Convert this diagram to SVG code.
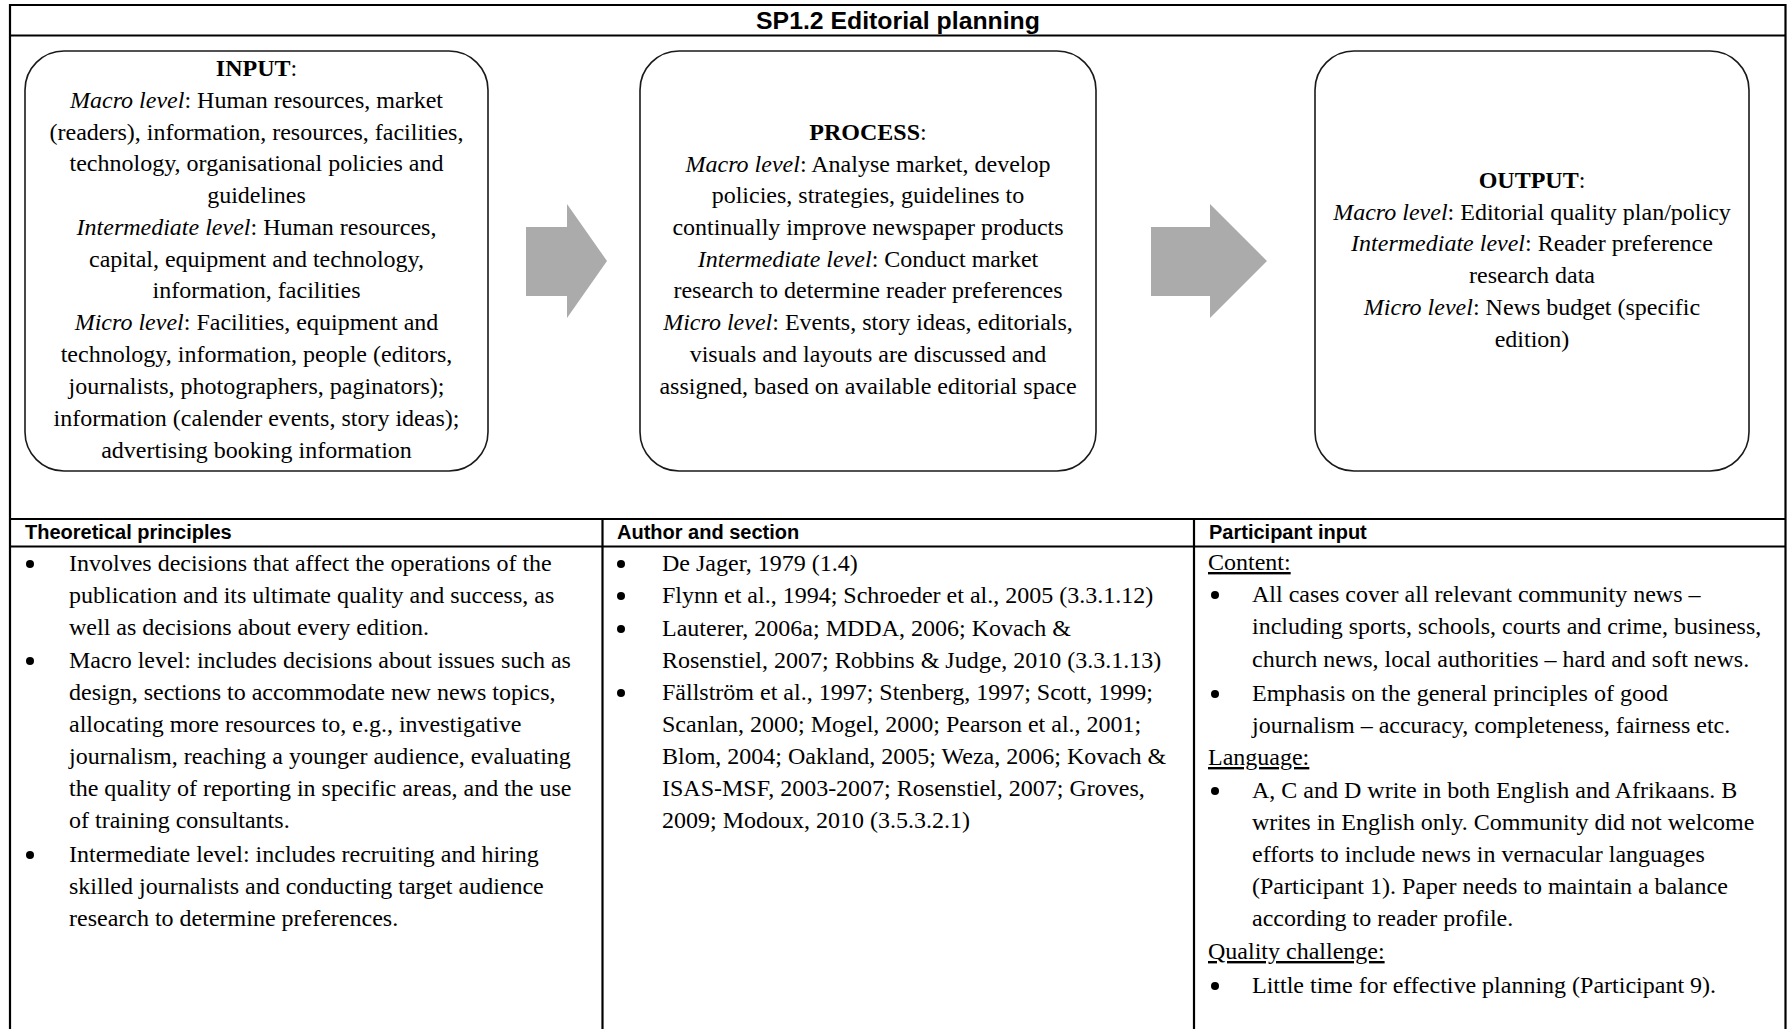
<svg xmlns="http://www.w3.org/2000/svg" width="1787" height="1029" viewBox="0 0 1787 1029">
<style>
.t{font-family:"Liberation Serif","Times New Roman",serif;font-size:24px;fill:#000}
.c{text-anchor:middle}
.i{font-style:italic}
.b{font-weight:bold}
.h{font-family:"Liberation Sans",Arial,sans-serif;font-weight:bold;font-size:20px;fill:#000}
.ti{font-family:"Liberation Sans",Arial,sans-serif;font-weight:bold;font-size:24.8px;fill:#000;text-anchor:middle}
.box{fill:#fff;stroke:#1a1a1a;stroke-width:1.6}
.grid{stroke:#000;stroke-width:2.2;fill:none}
.arrow{fill:#ababab}
.u{text-decoration:underline}
.dot{fill:#000}
</style>
<rect width="1787" height="1029" fill="#fff"/>
<g id="table">
<line class="grid" x1="10" y1="5" x2="1786" y2="5"/>
<line class="grid" x1="10" y1="4" x2="10" y2="1029"/>
<line class="grid" x1="1785.5" y1="4" x2="1785.5" y2="1029"/>
<line class="grid" x1="10" y1="35.5" x2="1786" y2="35.5"/>
<line class="grid" x1="10" y1="519" x2="1786" y2="519"/>
<line class="grid" x1="10" y1="546.5" x2="1786" y2="546.5"/>
<line class="grid" x1="602.5" y1="519" x2="602.5" y2="1029"/>
<line class="grid" x1="1194" y1="519" x2="1194" y2="1029"/>
<text class="ti" x="898" y="28.5">SP1.2 Editorial planning</text>
<text class="h" x="25" y="539">Theoretical principles</text>
<text class="h" x="617" y="539">Author and section</text>
<text class="h" x="1209" y="539">Participant input</text>
</g>
<g id="connectors">
<polygon class="arrow" points="526,227 567,227 567,204 607,261 567,318 567,296 526,296"/>
<polygon class="arrow" points="1151,227 1210,227 1210,204 1267,261 1210,318 1210,296 1151,296"/>
</g>
<g id="input">
<rect class="box" x="25" y="51" width="463" height="420" rx="39" ry="39"/>
<text class="t c" x="256.5" y="76"><tspan class="b">INPUT</tspan>:</text>
<text class="t c" x="256.5" y="108"><tspan class="i">Macro level</tspan>: Human resources, market</text>
<text class="t c" x="256.5" y="140">(readers), information, resources, facilities,</text>
<text class="t c" x="256.5" y="171">technology, organisational policies and</text>
<text class="t c" x="256.5" y="203">guidelines</text>
<text class="t c" x="256.5" y="235"><tspan class="i">Intermediate level</tspan>: Human resources,</text>
<text class="t c" x="256.5" y="267">capital, equipment and technology,</text>
<text class="t c" x="256.5" y="298">information, facilities</text>
<text class="t c" x="256.5" y="330"><tspan class="i">Micro level</tspan>: Facilities, equipment and</text>
<text class="t c" x="256.5" y="362">technology, information, people (editors,</text>
<text class="t c" x="256.5" y="394">journalists, photographers, paginators);</text>
<text class="t c" x="256.5" y="426">information (calender events, story ideas);</text>
<text class="t c" x="256.5" y="458">advertising booking information</text>
</g>
<g id="process">
<rect class="box" x="640" y="51" width="456" height="420" rx="39" ry="39"/>
<text class="t c" x="868" y="140"><tspan class="b">PROCESS</tspan>:</text>
<text class="t c" x="868" y="172"><tspan class="i">Macro level</tspan>: Analyse market, develop</text>
<text class="t c" x="868" y="203">policies, strategies, guidelines to</text>
<text class="t c" x="868" y="235">continually improve newspaper products</text>
<text class="t c" x="868" y="267"><tspan class="i">Intermediate level</tspan>: Conduct market</text>
<text class="t c" x="868" y="298">research to determine reader preferences</text>
<text class="t c" x="868" y="330"><tspan class="i">Micro level</tspan>: Events, story ideas, editorials,</text>
<text class="t c" x="868" y="362">visuals and layouts are discussed and</text>
<text class="t c" x="868" y="394">assigned, based on available editorial space</text>
</g>
<g id="output">
<rect class="box" x="1315" y="51" width="434" height="420" rx="39" ry="39"/>
<text class="t c" x="1532" y="188"><tspan class="b">OUTPUT</tspan>:</text>
<text class="t c" x="1532" y="220"><tspan class="i">Macro level</tspan>: Editorial quality plan/policy</text>
<text class="t c" x="1532" y="251"><tspan class="i">Intermediate level</tspan>: Reader preference</text>
<text class="t c" x="1532" y="283">research data</text>
<text class="t c" x="1532" y="315"><tspan class="i">Micro level</tspan>: News budget (specific</text>
<text class="t c" x="1532" y="347">edition)</text>
</g>
<g id="theory">
<circle class="dot" cx="30" cy="564" r="4"/>
<circle class="dot" cx="30" cy="661" r="4"/>
<circle class="dot" cx="30" cy="855" r="4"/>
<text class="t" x="69" y="571">Involves decisions that affect the operations of the</text>
<text class="t" x="69" y="603">publication and its ultimate quality and success, as</text>
<text class="t" x="69" y="635">well as decisions about every edition.</text>
<text class="t" x="69" y="668">Macro level: includes decisions about issues such as</text>
<text class="t" x="69" y="700">design, sections to accommodate new news topics,</text>
<text class="t" x="69" y="732">allocating more resources to, e.g., investigative</text>
<text class="t" x="69" y="764">journalism, reaching a younger audience, evaluating</text>
<text class="t" x="69" y="796">the quality of reporting in specific areas, and the use</text>
<text class="t" x="69" y="828">of training consultants.</text>
<text class="t" x="69" y="862">Intermediate level: includes recruiting and hiring</text>
<text class="t" x="69" y="894">skilled journalists and conducting target audience</text>
<text class="t" x="69" y="926">research to determine preferences.</text>
</g>
<g id="authors">
<circle class="dot" cx="621" cy="564" r="4"/>
<circle class="dot" cx="621" cy="596" r="4"/>
<circle class="dot" cx="621" cy="629" r="4"/>
<circle class="dot" cx="621" cy="693" r="4"/>
<text class="t" x="662" y="571">De Jager, 1979 (1.4)</text>
<text class="t" x="662" y="603">Flynn et al., 1994; Schroeder et al., 2005 (3.3.1.12)</text>
<text class="t" x="662" y="636">Lauterer, 2006a; MDDA, 2006; Kovach &amp;</text>
<text class="t" x="662" y="668">Rosenstiel, 2007; Robbins &amp; Judge, 2010 (3.3.1.13)</text>
<text class="t" x="662" y="700">Fällström et al., 1997; Stenberg, 1997; Scott, 1999;</text>
<text class="t" x="662" y="732">Scanlan, 2000; Mogel, 2000; Pearson et al., 2001;</text>
<text class="t" x="662" y="764">Blom, 2004; Oakland, 2005; Weza, 2006; Kovach &amp;</text>
<text class="t" x="662" y="796">ISAS-MSF, 2003-2007; Rosenstiel, 2007; Groves,</text>
<text class="t" x="662" y="828">2009; Modoux, 2010 (3.5.3.2.1)</text>
</g>
<g id="participants">
<text class="t u" x="1208" y="570">Content:</text>
<circle class="dot" cx="1215" cy="595" r="4"/>
<text class="t" x="1252" y="602">All cases cover all relevant community news –</text>
<text class="t" x="1252" y="634">including sports, schools, courts and crime, business,</text>
<text class="t" x="1252" y="667">church news, local authorities – hard and soft news.</text>
<circle class="dot" cx="1215" cy="694" r="4"/>
<text class="t" x="1252" y="701">Emphasis on the general principles of good</text>
<text class="t" x="1252" y="733">journalism – accuracy, completeness, fairness etc.</text>
<text class="t u" x="1208" y="765">Language:</text>
<circle class="dot" cx="1215" cy="791" r="4"/>
<text class="t" x="1252" y="798">A, C and D write in both English and Afrikaans. B</text>
<text class="t" x="1252" y="830">writes in English only. Community did not welcome</text>
<text class="t" x="1252" y="862">efforts to include news in vernacular languages</text>
<text class="t" x="1252" y="894">(Participant 1). Paper needs to maintain a balance</text>
<text class="t" x="1252" y="926">according to reader profile.</text>
<text class="t u" x="1208" y="959">Quality challenge:</text>
<circle class="dot" cx="1215" cy="986" r="4"/>
<text class="t" x="1252" y="993">Little time for effective planning (Participant 9).</text>
</g>
</svg>
